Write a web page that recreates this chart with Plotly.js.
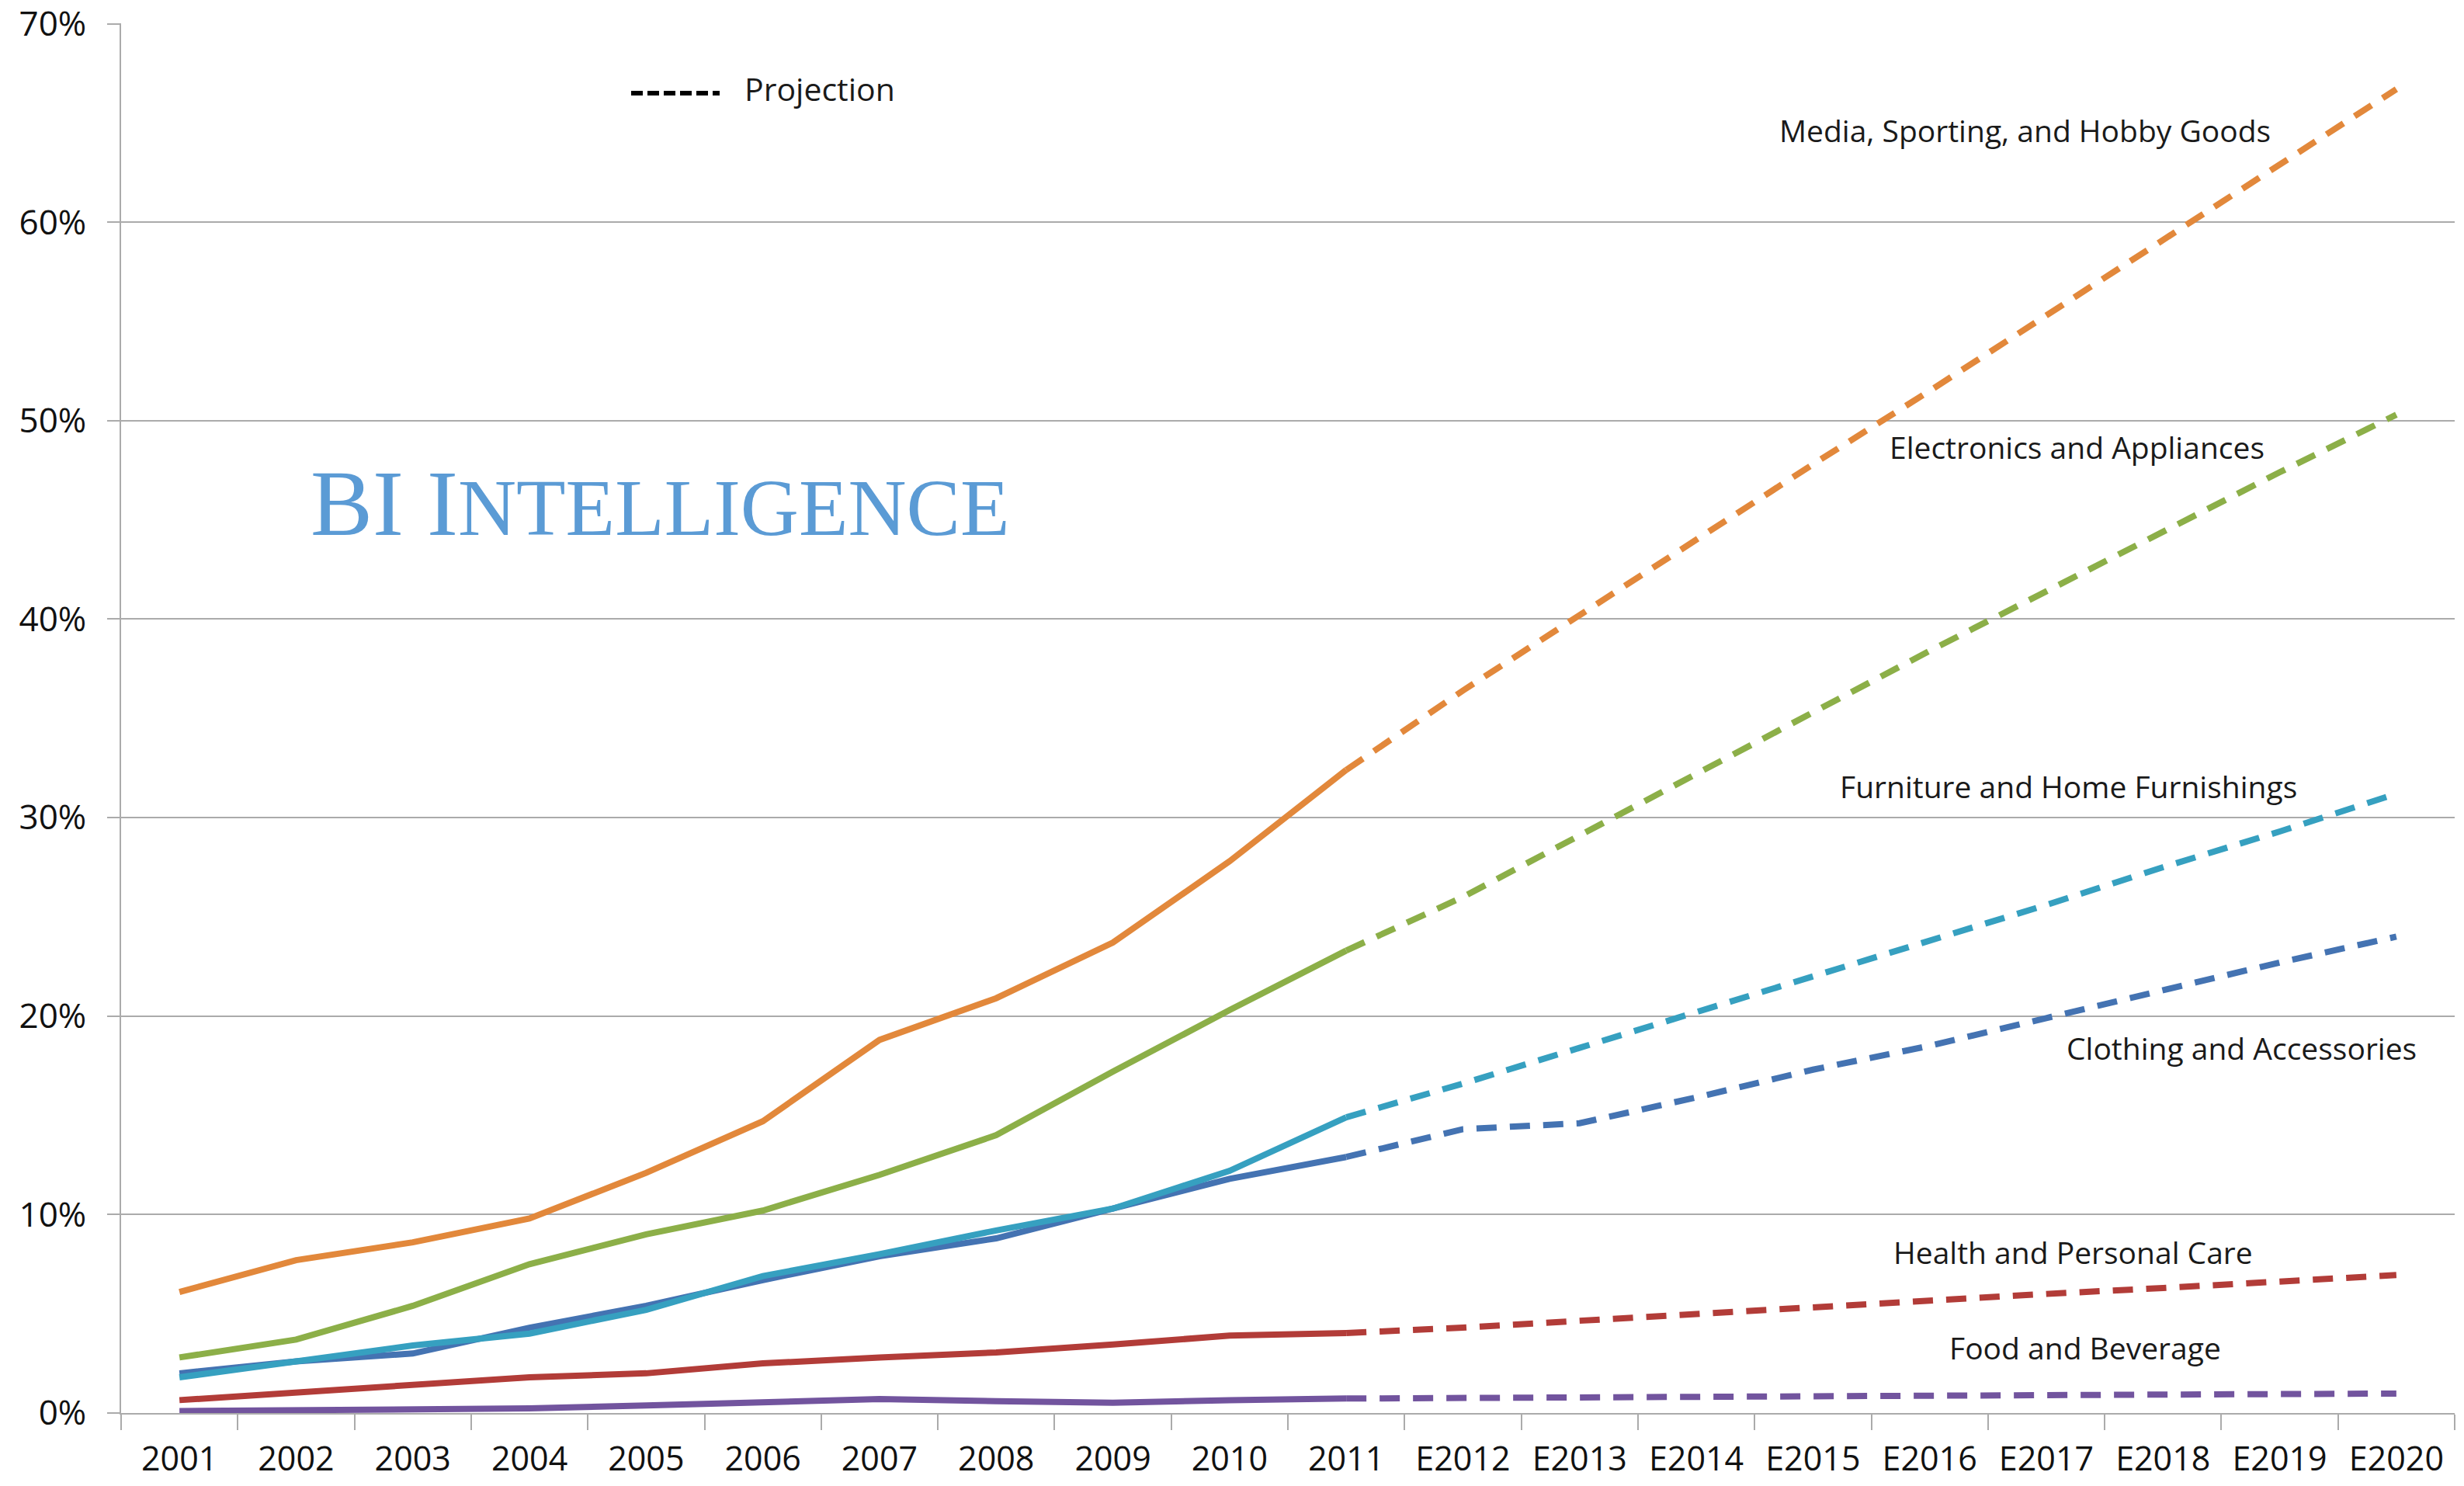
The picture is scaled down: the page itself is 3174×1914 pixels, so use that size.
<!DOCTYPE html>
<html>
<head>
<meta charset="utf-8">
<script src="https://cdn.plot.ly/plotly-3.0.1.min.js"></script>
<style>
  html, body { margin: 0; padding: 0; background: #ffffff; }
  #chart { width: 3174px; height: 1914px; }
</style>
</head>
<body>
<div id="chart"></div>
<script>
// ---------------- DATA ----------------
const categories = ['2001','2002','2003','2004','2005','2006','2007','2008','2009','2010','2011',
                    'E2012','E2013','E2014','E2015','E2016','E2017','E2018','E2019','E2020'];
const lastActualIndex = 10; // '2011' — projections start here

const seriesNames = ['Media, Sporting, and Hobby Goods', 'Electronics and Appliances',
                     'Furniture and Home Furnishings', 'Clothing and Accessories',
                     'Health and Personal Care', 'Food and Beverage'];

const mediaSportingHobby = [6.1, 7.7, 8.6, 9.8, 12.1, 14.7, 18.8, 20.9, 23.7, 27.8, 32.4,
                            36.4, 40.2, 44.0, 47.8, 51.5, 55.3, 59.1, 62.9, 66.7];
const electronicsAppliances = [2.8, 3.7, 5.4, 7.5, 9.0, 10.2, 12.0, 14.0, 17.2, 20.3, 23.3,
                               26.0, 29.1, 32.2, 35.3, 38.4, 41.4, 44.4, 47.4, 50.3];
const furnitureHome = [1.8, 2.6, 3.4, 4.0, 5.2, 6.9, 8.0, 9.2, 10.3, 12.2, 14.9,
                       16.6, 18.4, 20.2, 22.0, 23.8, 25.6, 27.5, 29.3, 31.2];
const clothingAccessories = [2.0, 2.6, 3.0, 4.3, 5.4, 6.7, 7.9, 8.8, 10.3, 11.8, 12.9,
                             14.3, 14.6, 15.9, 17.3, 18.5, 19.9, 21.3, 22.7, 24.0];
const healthPersonalCare = [0.65, 1.05, 1.45, 1.8, 2.0, 2.5, 2.8, 3.05, 3.45, 3.9, 4.03,
                            4.3, 4.65, 5.0, 5.35, 5.7, 6.0, 6.3, 6.6, 6.95];
const foodBeverage = [0.1, 0.13, 0.17, 0.23, 0.38, 0.55, 0.7, 0.6, 0.52, 0.65, 0.73,
                      0.77, 0.8, 0.83, 0.85, 0.88, 0.9, 0.93, 0.95, 0.98];

const yTickValues = [0, 10, 20, 30, 40, 50, 60, 70];
const yTickLabels = ['0%', '10%', '20%', '30%', '40%', '50%', '60%', '70%'];
const legendText = 'Projection';
const logoBig = 'BI I';
const logoSmall = 'NTELLIGENCE';

// ---------------- STYLE ----------------
const seriesValues = [mediaSportingHobby, electronicsAppliances, furnitureHome,
                      clothingAccessories, healthPersonalCare, foodBeverage];
const seriesColors = ['#E2883B', '#8CAF48', '#36A0C0', '#4473B2', '#B23C38', '#72549E'];
// label centres in page pixels
const labelPos = [[2608, 168], [2675, 575], [2664, 1012], [2887, 1349], [2670, 1612], [2686, 1735]];
const drawOrder = [5, 4, 3, 2, 1, 0];

const PLOT = {l: 156, r: 3162, t: 30, b: 1820};
const W = 3174, H = 1914;
function px(x) { return (x - PLOT.l) / (PLOT.r - PLOT.l); }
function py(y) { return (PLOT.b - y) / (PLOT.b - PLOT.t); }

const LINE_W = 8;
const traces = [];
drawOrder.forEach(function (i) {
  const vals = seriesValues[i];
  traces.push({
    type: 'scatter', mode: 'lines', name: seriesNames[i],
    x: categories.slice(0, lastActualIndex + 1),
    y: vals.slice(0, lastActualIndex + 1),
    line: {color: seriesColors[i], width: LINE_W},
    showlegend: false, hoverinfo: 'skip'
  });
  traces.push({
    type: 'scatter', mode: 'lines', name: seriesNames[i] + ' (projection)',
    x: categories.slice(lastActualIndex),
    y: vals.slice(lastActualIndex),
    line: {color: seriesColors[i], width: LINE_W, dash: '26px,17px'},
    showlegend: false, hoverinfo: 'skip'
  });
});

const labelFont = {family: 'Open Sans, sans-serif', size: 39, color: '#1a1a1a'};
const annotations = seriesNames.map(function (name, i) {
  return {
    text: name, xref: 'paper', yref: 'paper',
    x: px(labelPos[i][0]), y: py(labelPos[i][1]),
    xanchor: 'center', yanchor: 'middle', showarrow: false, font: labelFont
  };
});
annotations.push({
  text: legendText, xref: 'paper', yref: 'paper',
  x: px(957), y: py(114), xanchor: 'left', yanchor: 'middle', showarrow: false,
  font: {family: 'Open Sans, sans-serif', size: 41, color: '#1a1a1a'}
});
annotations.push({
  text: logoBig + '<span style="font-size:104px">' + logoSmall + '</span>',
  xref: 'paper', yref: 'paper', x: px(850), y: py(648),
  xanchor: 'center', yanchor: 'middle', showarrow: false,
  font: {family: 'Liberation Serif, serif', size: 120, color: '#5B9BD5'}
});

const gridGray = '#ABABAB';
const layout = {
  width: W, height: H,
  margin: {l: PLOT.l, r: W - PLOT.r, t: PLOT.t, b: H - PLOT.b, pad: 0},
  paper_bgcolor: '#ffffff', plot_bgcolor: '#ffffff',
  showlegend: false,
  xaxis: {
    type: 'category', categoryorder: 'array', categoryarray: categories,
    range: [-0.5, categories.length - 0.5],
    tickson: 'boundaries', ticks: 'outside', ticklen: 20, tickwidth: 2, tickcolor: gridGray,
    showline: true, linecolor: gridGray, linewidth: 2,
    showgrid: false, zeroline: false,
    tickfont: {family: 'Open Sans, sans-serif', size: 43, color: '#111111'},
    ticklabelstandoff: 20, fixedrange: true
  },
  yaxis: {
    range: [0, 70.02], tickmode: 'array', tickvals: yTickValues, ticktext: yTickLabels,
    ticks: 'outside', ticklen: 16, tickwidth: 2, tickcolor: gridGray,
    showgrid: true, gridcolor: gridGray, gridwidth: 2,
    showline: true, linecolor: gridGray, linewidth: 2, zeroline: false,
    tickfont: {family: 'Open Sans, sans-serif', size: 44, color: '#111111'},
    ticklabelstandoff: 18, ticklabeloverflow: 'allow', fixedrange: true
  },
  shapes: [{
    type: 'line', xref: 'paper', yref: 'paper',
    x0: px(813), x1: px(927), y0: py(120), y1: py(120),
    line: {color: '#000000', width: 6, dash: '15px,6px'}
  }],
  annotations: annotations
};

Plotly.newPlot('chart', traces, layout, {displayModeBar: false, staticPlot: true});
</script>
</body>
</html>
